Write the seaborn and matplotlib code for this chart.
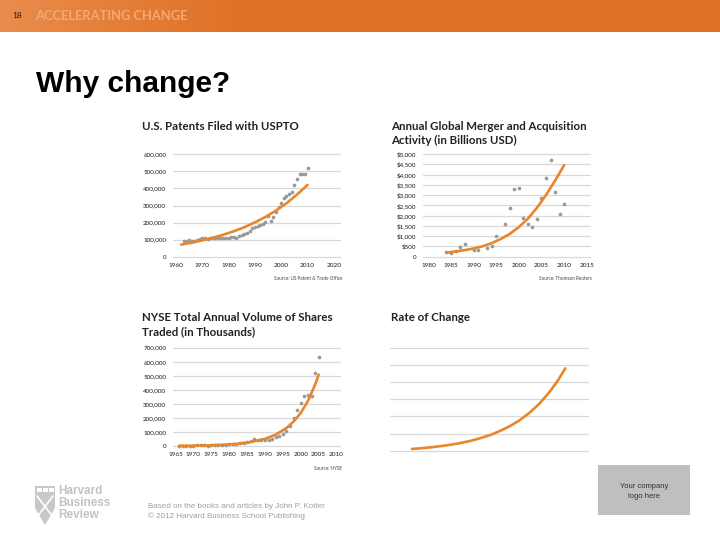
import matplotlib
import numpy as np
import pandas as pd
import seaborn as sns

matplotlib.use("Agg")
import matplotlib.pyplot as plt
from matplotlib.patches import Polygon, Rectangle

# ---- values ----
patent_years = list(range(1963, 2011))
patent_filed = [
    91, 93, 100, 93, 91, 99, 104, 109, 111, 105, 110, 108, 107, 110, 108, 109,
    108, 112, 114, 118, 112, 120, 127, 133, 139, 151, 166, 176, 178, 185, 189,
    206, 237, 211, 232, 261, 289, 315, 346, 358, 366, 382, 418, 453, 485, 485,
    483, 520,
]  # thousands
patent_trend_years = [1962, 1966, 1970, 1974, 1978, 1982, 1986, 1990, 1994, 1998, 2002, 2006, 2010]
patent_trend = [71, 82, 96, 111, 129, 149, 173, 201, 233, 270, 313, 364, 420]
patent_yticks = [0, 100000, 200000, 300000, 400000, 500000, 600000]
patent_ylabels = ["0", "100,000", "200,000", "300,000", "400,000", "500,000", "600,000"]
patent_xticks = [1960, 1970, 1980, 1990, 2000, 2010, 2020]

ma_years = [1984, 1985, 1986, 1987, 1988, 1990, 1991, 1993, 1994, 1995, 1997, 1998,
            1999, 2000, 2001, 2002, 2003, 2004, 2005, 2006, 2007, 2008, 2009, 2010]
ma_value = [243, 195, 292, 487, 601, 325, 308, 438, 519, 1006, 1575, 2386,
            3295, 3328, 1867, 1575, 1429, 1834, 2873, 3847, 4708, 3133, 2078, 2581]
ma_trend_years = [1984, 1986, 1988, 1990, 1992, 1994, 1996, 1998, 2000, 2002, 2004, 2006, 2008, 2010]
ma_trend = [200, 250, 320, 400, 510, 660, 860, 1110, 1440, 1850, 2380, 3000, 3700, 4450]
ma_yticks = [0, 500, 1000, 1500, 2000, 2500, 3000, 3500, 4000, 4500, 5000]
ma_ylabels = ["0", "$500", "$1,000", "$1,500", "$2,000", "$2,500", "$3,000",
              "$3,500", "$4,000", "$4,500", "$5,000"]
ma_xticks = [1980, 1985, 1990, 1995, 2000, 2005, 2010, 2015]

nyse_years = list(range(1966, 2006))
nyse_volume = [
    1.9, 2.5, 2.9, 2.9, 2.9, 3.9, 4.1, 4.1, 3.5, 4.7, 5.4, 5.3, 7.2, 8.2, 11.4,
    11.9, 16.5, 21.6, 23.1, 27.5, 35.7, 47.8, 40.8, 42.0, 39.7, 45.3, 51.4, 66.9,
    73.4, 87.2, 104.6, 140, 197, 257, 304, 359, 363, 359, 522, 636,
]  # thousands of thousands
nyse_trend_years = [1966, 1970, 1974, 1978, 1982, 1986, 1990, 1993, 1996, 1998, 2000, 2002, 2004, 2005]
nyse_trend = [1.3, 2.4, 4.4, 8, 15, 28, 51, 81, 128, 174, 236, 321, 437, 508]
nyse_yticks = [0, 100000, 200000, 300000, 400000, 500000, 600000, 700000]
nyse_ylabels = ["0", "100,000", "200,000", "300,000", "400,000", "500,000", "600,000", "700,000"]
nyse_xticks = [1965, 1970, 1975, 1980, 1985, 1990, 1995, 2000, 2005, 2010]

rate_x = [11, 15, 20, 25, 30, 35, 40, 45, 50, 55, 60, 65, 70, 75, 80, 84, 88]
rate_y = [0.10, 0.14, 0.19, 0.26, 0.34, 0.44, 0.56, 0.72, 0.90, 1.14, 1.42,
          1.77, 2.21, 2.74, 3.41, 4.05, 4.80]
rate_yticks = [0, 1, 2, 3, 4, 5, 6]

ORANGE = "#e8862a"
DOT = "#999999"
GRID = "#d9d9d9"
W, H = 720, 540

sns.set_theme(style="white")
plt.rcParams["font.family"] = ["Lato", "DejaVu Sans"]


def add_chart(fig, grid_px, x_anchor, y_px, y_range, pad=4):
    # grid_px: left/right end of the gridlines; x_anchor: (value, pixel, px per unit)
    left, right = grid_px
    x0, x0_px, ppu = x_anchor
    top, bottom = y_px
    yscale = (y_range[1] - y_range[0]) / (bottom - top)
    ax = fig.add_axes([left / W, 1 - (bottom + pad) / H,
                       (right - left) / W, (bottom - top + 2 * pad) / H])
    ax.set_xlim(x0 - (x0_px - left) / ppu, x0 + (right - x0_px) / ppu)
    ax.set_ylim(y_range[0] - pad * yscale, y_range[1] + pad * yscale)
    ax.set_facecolor("none")
    for s in ax.spines.values():
        s.set_visible(False)
    ax.yaxis.grid(True, color=GRID, lw=0.9)
    ax.xaxis.grid(False)
    ax.tick_params(length=0, colors="#1a1a1a")
    return ax


def draw_series(ax, xs, ys, tx, ty, scale):
    pts = pd.DataFrame({"x": xs, "y": np.array(ys) * scale})
    trend = pd.DataFrame({"x": tx, "y": np.array(ty) * scale})
    sns.scatterplot(data=pts, x="x", y="y", ax=ax, color=DOT, s=7,
                    linewidth=0, zorder=3)
    sns.lineplot(data=trend, x="x", y="y", ax=ax, color=ORANGE, lw=1.9,
                 zorder=4)
    ax.set_xlabel("")
    ax.set_ylabel("")


fig = plt.figure(figsize=(7.2, 5.4), dpi=100)

# page background / overlay in pixel coordinates
bg = fig.add_axes([0, 0, 1, 1])
bg.axis("off")

grad = np.linspace(0, 1, 400)
c_left = np.array([0xea, 0x8c, 0x4c]) / 255
c_right = np.array([0xdf, 0x71, 0x26]) / 255
mix = np.clip(grad * 3.0, 0, 1)[:, None]
row = c_left * (1 - mix) + c_right * mix
bg.imshow(row[None, :, :], extent=[0, W, 32, 0], aspect="auto", zorder=1)
bg.set_xlim(0, W)
bg.set_ylim(H, 0)

bg.text(12, 16, "18", fontsize=6, color="#2e1e12", va="center", ha="left", zorder=2)
bg.text(35, 16, "ACCELERATING CHANGE", fontsize=9.3, fontweight="bold",
        color="#f4a874", va="center", ha="left", zorder=2)
bg.text(36, 92, "Why change?", fontsize=21.5, fontweight="bold", color="#000000",
        family="Liberation Sans", va="baseline", ha="left")

# chart titles and sources
title_kw = dict(fontsize=8.3, fontweight="bold", color="#222222", va="baseline", ha="left")
bg.text(142, 129.5, "U.S. Patents Filed with USPTO", **title_kw)
bg.text(391, 129.5, "Annual Global Merger and Acquisition", **title_kw)
bg.text(391, 143.5, "Activity (in Billions USD)", **title_kw)
bg.text(142, 321, "NYSE Total Annual Volume of Shares", **title_kw)
bg.text(142, 335, "Traded (in Thousands)", **title_kw)
bg.text(391, 321, "Rate of Change", **title_kw)

src_kw = dict(fontsize=3.3, color="#444444", va="center", ha="right")
bg.text(342, 278, "Source: US Patent & Trade Office", **src_kw)
bg.text(592, 278, "Source: Thomson Reuters", **src_kw)
bg.text(342, 469, "Source: NYSE", **src_kw)

# footer: HBR logo, credits, company logo box
shield = Polygon([(35, 486), (55, 486), (55, 508), (45, 525), (35, 508)],
                 closed=True, facecolor="#c8c8c8", edgecolor="none")
bg.add_patch(shield)
for bx in (37, 43, 49):
    bg.add_patch(Rectangle((bx, 488), 4.5, 4, facecolor="white", edgecolor="none"))
bg.plot([37, 53], [496, 517], color="white", lw=1.2)
bg.plot([53, 37], [496, 517], color="white", lw=1.2)
hbr_kw = dict(fontsize=8.5, fontweight="bold", color="#c3c3c3", va="center",
              ha="left", family="Liberation Sans")
bg.text(58, 491.5, "Harvard", **hbr_kw)
bg.text(58, 503.5, "Business", **hbr_kw)
bg.text(58, 515.5, "Review", **hbr_kw)

foot_kw = dict(fontsize=5.8, color="#a0a0a0", va="center", ha="left", family="Liberation Sans")
bg.text(148, 506, "Based on the books and articles by John P. Kotter", **foot_kw)
bg.text(148, 516, "\u00a9 2012 Harvard Business School Publishing", **foot_kw)

bg.add_patch(Rectangle((598, 465), 92, 50, facecolor="#bfbfbf", edgecolor="none"))
logo_kw = dict(fontsize=5.5, color="#333333", va="center", ha="center", family="Liberation Sans")
bg.text(644, 486, "Your company", **logo_kw)
bg.text(644, 496, "logo here", **logo_kw)

# --- chart 1: patents ---
ax1 = add_chart(fig, (172.7, 340.7), (1960, 176, 2.63), (154.3, 256.7), (0, 600000))
draw_series(ax1, patent_years, patent_filed, patent_trend_years, patent_trend, 1000)
ax1.set_yticks(patent_yticks, patent_ylabels)
ax1.set_xticks(patent_xticks, [str(v) for v in patent_xticks])

# --- chart 2: M&A ---
ax2 = add_chart(fig, (422.7, 590.7), (1985, 451, 4.523), (154, 256.7), (0, 5000))
draw_series(ax2, ma_years, ma_value, ma_trend_years, ma_trend, 1)
ax2.set_yticks(ma_yticks, ma_ylabels)
ax2.set_xticks(ma_xticks, [str(v) for v in ma_xticks])

# --- chart 3: NYSE ---
ax3 = add_chart(fig, (172.7, 340.7), (1965, 175.5, 3.58), (347.7, 446), (0, 700000))
draw_series(ax3, nyse_years, nyse_volume, nyse_trend_years, nyse_trend, 1000)
ax3.set_yticks(nyse_yticks, nyse_ylabels)
ax3.set_xticks(nyse_xticks, [str(v) for v in nyse_xticks])

# --- chart 4: rate of change ---
ax4 = add_chart(fig, (390, 589.3), (0, 390, 1.993), (347.7, 450.7), (0, 6))
sns.lineplot(x=rate_x, y=rate_y, ax=ax4, color=ORANGE, lw=1.9, zorder=4)
ax4.set_yticks(rate_yticks)
ax4.set_xticks([])
ax4.tick_params(labelleft=False)

for ax in (ax1, ax2, ax3):
    ax.tick_params(axis="y", labelsize=4.5, pad=4.6)
    ax.tick_params(axis="x", labelsize=4.6, pad=1.6)

fig.savefig("out.png", dpi=100)
